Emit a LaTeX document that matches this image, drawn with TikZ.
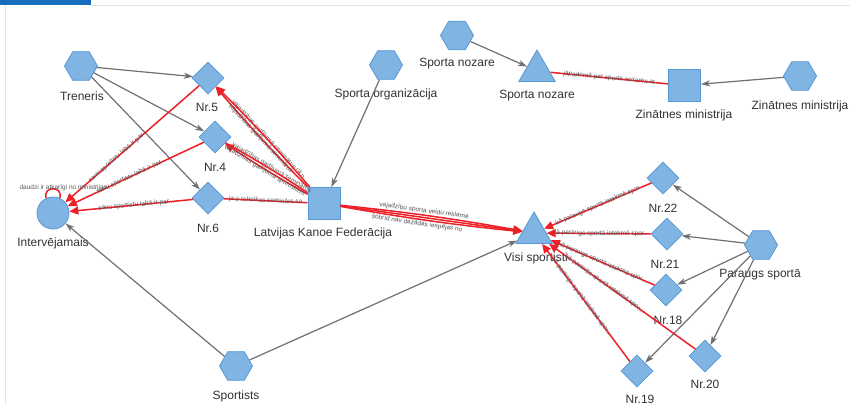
\documentclass[tikz,border=0pt]{standalone}
\usepackage{fontspec}
\setmainfont{Liberation Sans}
\usetikzlibrary{shapes.geometric,arrows.meta}
\definecolor{nfill}{RGB}{128,180,226}
\definecolor{ndraw}{RGB}{88,152,212}
\definecolor{ered}{RGB}{236,32,38}
\definecolor{egray}{RGB}{112,112,116}
\definecolor{ltxt}{RGB}{50,50,55}
\definecolor{etxt}{RGB}{88,88,92}
\definecolor{tabblue}{RGB}{22,108,190}
\definecolor{frame}{RGB}{225,228,232}
\tikzset{
  shp/.style={fill=nfill,draw=ndraw,line width=0.8pt,inner sep=0pt},
  hexa/.style={shp,regular polygon,regular polygon sides=6,minimum size=33pt},
  dia/.style={shp,diamond,minimum width=32pt,minimum height=32pt},
  sq/.style={shp,rectangle,minimum size=32pt},
  tri/.style={shp,regular polygon,regular polygon sides=3,minimum size=42pt},
  circ/.style={shp,circle,minimum size=32pt},
  lab/.style={font=\fontsize{12}{14}\selectfont,text=ltxt,inner sep=0pt},
  ge/.style={draw=egray,line width=1.2pt,-{Stealth[length=9pt,width=6pt,inset=2.5pt]}},
  re/.style={draw=ered,line width=1.5pt},
  ra/.style={re,-{Triangle[length=9pt,width=8pt]}},
  elab/.style={font=\fontsize{6.5}{7}\selectfont,text=etxt,sloped,inner sep=0.4pt}
}
\begin{document}
\begin{tikzpicture}[x=1pt,y=-1pt]
\useasboundingbox (0,0) rectangle (850,404);
\fill[white] (0,0) rectangle (850,404);
% frame
\fill[tabblue] (0,0) rectangle (91,5);
\draw[frame,line width=0.8pt] (91,5) -- (850,5);
\draw[frame,line width=0.8pt] (5,5) -- (5,404);
% nodes
\node[hexa] (treneris) at (81,66) {};
\node[lab] (treneris-l) at (82,96) {Treneris};
\node[dia] (nr5) at (208,78) {};
\node[lab] (nr5-l) at (207,107) {Nr.5};
\node[dia] (nr4) at (215,137) {};
\node[lab] (nr4-l) at (215,167) {Nr.4};
\node[dia] (nr6) at (208,198) {};
\node[lab] (nr6-l) at (208,228) {Nr.6};
\node[circ] (interv) at (53,213) {};
\node[lab] (interv-l) at (53,243) {Intervējamais};
\node[hexa] (sorg) at (386,65) {};
\node[lab] (sorg-l) at (386,94) {Sporta organizācija};
\node[sq] (lkf) at (324,203.5) {};
\node[lab] (lkf-l) at (323,233) {Latvijas Kanoe Federācija};
\node[hexa] (snh) at (457,35.5) {};
\node[lab] (snh-l) at (457,64) {Sporta nozare};
\node[tri] (snt) at (537,71) {};
\node[lab] (snt-l) at (537,96) {Sporta nozare};
\node[sq] (zms) at (684.5,85.5) {};
\node[lab] (zms-l) at (684,115) {Zinātnes ministrija};
\node[hexa] (zmh) at (800,76) {};
\node[lab] (zmh-l) at (800,106) {Zinātnes ministrija};
\node[tri] (visi) at (534,233) {};
\node[lab] (visi-l) at (536,258) {Visi sportisti};
\node[dia] (nr22) at (663,178) {};
\node[lab] (nr22-l) at (663,208) {Nr.22};
\node[dia] (nr21) at (667,234) {};
\node[lab] (nr21-l) at (665,264) {Nr.21};
\node[hexa] (paraugs) at (761,245) {};
\node[lab] (paraugs-l) at (760,275) {Paraugs sportā};
\node[dia] (nr18) at (666,290) {};
\node[lab] (nr18-l) at (668,320) {Nr.18};
\node[dia] (nr20) at (705,356) {};
\node[lab] (nr20-l) at (705,384) {Nr.20};
\node[dia] (nr19) at (637,371) {};
\node[lab] (nr19-l) at (640,399) {Nr.19};
\node[hexa] (sportists) at (236,366) {};
\node[lab] (sportists-l) at (236,396) {Sportists};
% gray edges
\draw[ge] (treneris) -- (nr5);
\draw[ge] (treneris) -- (nr4);
\draw[ge] (treneris) -- (nr6);
\draw[ge] (sorg) -- (lkf);
\draw[ge] (snh) -- (snt);
\draw[ge] (zmh) -- (zms);
\draw[ge] (sportists) -- (interv);
\draw[ge] (sportists) -- (visi);
\draw[ge] (paraugs) -- (nr22);
\draw[ge] (paraugs) -- (nr21);
\draw[ge] (paraugs) -- (nr18);
\draw[ge] (paraugs) -- (nr20);
\draw[ge] (paraugs) -- (nr19);
% red edges
\draw[ra] (nr5) -- node[elab,pos=0.62]{savu sportistu labā ir par} (interv);
\draw[ra] (nr4) -- node[elab,pos=0.55]{savu sportistu labā ir par} (interv);
\draw[ra] (nr6) -- node[elab,pos=0.45]{savu sportistu labā ir par ...} (interv);
\draw[re] (interv.115) .. controls +(-105:13) and +(-75:13) .. (interv.65);
\node[elab,sloped=false] (loop-l) at (66,188) {daudzi ir atkarīgi no ministrijas...};
\draw[ra] (lkf) to[bend left=2] node[elab,pos=0.45,above=0.3pt]{vajadzības gadījumā seminārus rīko} (nr5);
\draw[ra] (lkf) to[bend right=2] node[elab,pos=0.5,below=0.3pt]{vajadzības gadījumā seminārus} (nr5);
\draw[ra] (lkf) to[bend left=2] node[elab,pos=0.45,above=0.3pt]{vajadzības gadījumā seminārus} (nr4);
\draw[re] (lkf) to[bend right=2] node[elab,pos=0.5,below=0.3pt]{vajadzības gadījumā sportistiem} (nr4);
\draw[re] (lkf) -- node[elab,pos=0.5]{ja ir tehnikas seminārs sa} (nr6);
\draw[ra] (lkf) to[bend left=2] node[elab,pos=0.45,above=0.2pt]{vajadzību sporta veidu reklamē} (visi);
\draw[ra] (lkf) to[bend right=2] node[elab,pos=0.42,below=0.2pt]{šobrīd nav dažādas iespējas no} (visi);
\draw[ra] (lkf) -- (visi);
\draw[re] (zms) -- node[elab,pos=0.5]{jāpadomā par sporta nozares at} (snt);
\draw[ra] (nr22) -- node[elab,pos=0.5]{kā paraugs sportā ietekmē spor} (visi);
\draw[ra] (nr21) -- node[elab,pos=0.5]{kā paraugs sportā ietekmē spor} (visi);
\draw[ra] (nr18) -- node[elab,pos=0.5]{kā paraugs sportā ietekmē spor...} (visi);
\draw[ra] (nr20) -- node[elab,pos=0.62]{kā paraugs sportā ietekmē spor...} (visi);
\draw[ra] (nr19) -- node[elab,pos=0.55]{kā paraugs sportā ietekmē spor...} (visi);
\end{tikzpicture}
\end{document}
